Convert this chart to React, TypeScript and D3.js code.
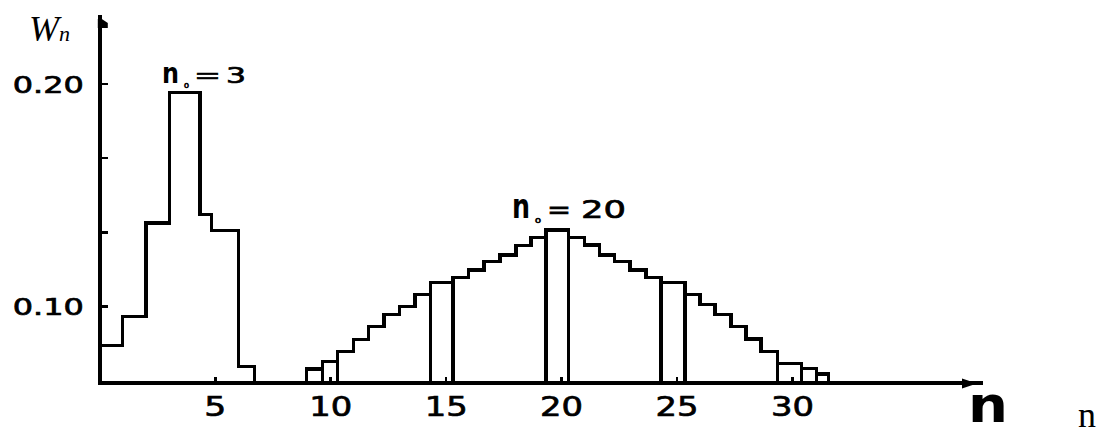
import React from "react";
import * as d3 from "d3";

const WIDTH = 1099;
const HEIGHT = 434;

// Distribution with n0 = 3: bin edges along n and bin heights W_n
const lowEdges = [0, 0.98, 2.0, 3.02, 4.34, 4.85, 6.0, 6.69];
const lowHeights = [0.0825, 0.0955, 0.1376, 0.1963, 0.1413, 0.1343, 0.0732];

// Distribution with n0 = 20
const highEdges = [
  8.94, 9.65, 10.3, 11.0, 11.65, 12.3, 12.99, 13.65, 14.33, 15.3, 15.96, 16.64,
  17.33, 18.02, 18.67, 19.32, 20.31, 20.98, 21.64, 22.29, 22.97, 23.65, 24.31,
  25.35, 25.99, 26.65, 27.33, 27.98, 28.64, 29.34, 30.38, 31.03, 31.56,
];
const highHeights = [
  0.072, 0.0753, 0.0798, 0.0854, 0.091, 0.0966, 0.1, 0.1056, 0.111, 0.1132,
  0.1165, 0.1202, 0.1232, 0.1274, 0.131, 0.1344, 0.131, 0.1277, 0.1232, 0.1202,
  0.1165, 0.1132, 0.111, 0.1056, 0.1011, 0.0966, 0.091, 0.0855, 0.0798, 0.0746,
  0.0723, 0.0698,
];
// bins of the n0 = 20 distribution drawn as closed boxes
const highBoxed = [0, 1, 8, 15, 22, 29, 30, 31];

// axes
const baseValue = 0.0657;
const xTicks = [5, 10, 15, 20, 25, 30];
const yTicks = [0.1, 0.1333, 0.1667, 0.2];
const yLabelTicks = [0.1, 0.2];

const x = d3.scaleLinear().domain([0, 30]).range([99.8, 792.5]);
const y = d3.scaleLinear().domain([0.1, 0.2]).range([306.7, 84]);

const line = d3.line<[number, number]>();

function stepOutline(edges: number[], heights: number[]): string {
  const pts: [number, number][] = [[x(edges[0]), y(baseValue)]];
  heights.forEach((h, i) => {
    pts.push([x(edges[i]), y(h)]);
    pts.push([x(edges[i + 1]), y(h)]);
  });
  pts.push([x(edges[edges.length - 1]), y(baseValue)]);
  return line(pts) as string;
}

const digitFont = "'DejaVu Sans', sans-serif";

function Piece(props: {
  x: number;
  y: number;
  w: number;
  size: number;
  children: React.ReactNode;
  weight?: string | number;
  outline?: number;
}) {
  return (
    <text
      x={props.x}
      y={props.y}
      fontSize={props.size}
      fontFamily={digitFont}
      fontWeight={props.weight ?? "normal"}
      textLength={props.w}
      lengthAdjust="spacingAndGlyphs"
      fill="#000"
      stroke="#000"
      strokeWidth={props.outline ?? 0.7}
    >
      {props.children}
    </text>
  );
}

function PeakLabel(props: { x: number; y: number; cap: number; value: string; gaps: number[]; widths: number[] }) {
  const { x: x0, y: b, cap, value, gaps, widths } = props;
  const fs = cap / 0.729;
  return (
    <g>
      <Piece x={x0} y={b} w={widths[0]} size={cap / 0.547} weight="bold" outline={0}>n</Piece>
      <Piece x={x0 + gaps[0]} y={b + 5} w={widths[1]} size={9}>o</Piece>
      <Piece x={x0 + gaps[1]} y={b} w={widths[2]} size={fs}>=</Piece>
      <Piece x={x0 + gaps[2]} y={b} w={widths[3]} size={fs}>{value}</Piece>
    </g>
  );
}

export default function App() {
  const x0 = x(0);
  const yBase = y(baseValue);
  const yTop = 15;
  const xEnd = 983;
  const sw = 3.4;

  return (
    <div style={{ position: "absolute", left: 0, top: 0 }}>
      <svg width={WIDTH} height={HEIGHT} style={{ display: "block", background: "#fff" }}>
        {/* histograms */}
        <g fill="none" stroke="#000" strokeWidth={sw} shapeRendering="crispEdges">
          <path d={stepOutline(lowEdges, lowHeights)} />
          <path d={stepOutline(highEdges, highHeights)} />
          {highBoxed.map((i) => (
            <rect
              key={i}
              x={x(highEdges[i])}
              y={y(highHeights[i])}
              width={x(highEdges[i + 1]) - x(highEdges[i])}
              height={yBase - y(highHeights[i])}
            />
          ))}
        </g>

        {/* axes */}
        <g stroke="#000" shapeRendering="crispEdges">
          <line x1={x0} y1={yTop} x2={x0} y2={yBase + 1.7} strokeWidth={sw} />
          <line x1={x0 - 1.7} y1={yBase} x2={xEnd} y2={yBase} strokeWidth={sw} />
          {yTicks.map((t) => (
            <line key={t} x1={x0} x2={x0 + 8} y1={y(t)} y2={y(t)} strokeWidth={2.6} />
          ))}
          {xTicks.map((t) => (
            <line key={t} x1={x(t)} x2={x(t)} y1={yBase} y2={yBase - 6} strokeWidth={2.6} />
          ))}
        </g>
        <polygon
          points={`${x0 - 2},19 ${x0 + 2},19 ${x0 + 8},23 ${x0 + 8},28 ${x0 - 2},28`}
          fill="#000"
        />
        <polygon points={`962,378.5 962,388.5 977,383.5`} fill="#000" />

        {/* tick labels */}
        {yLabelTicks.map((t) => (
          <Piece key={t} x={x0 - 87} y={y(t) + 8.5} w={71} size={17 / 0.729}>
            {d3.format(".2f")(t)}
          </Piece>
        ))}
        {xTicks.map((t) => {
          const s = String(t);
          const w = s.length === 1 ? 22 : 43;
          return (
            <Piece key={t} x={x(t) - w / 2} y={416} w={w} size={20 / 0.729}>
              {s}
            </Piece>
          );
        })}

        {/* axis titles */}
        <text x={29} y={41} fontFamily="'Liberation Serif', serif" fontStyle="italic" fontSize={36}>
          W
          <tspan fontSize={22}>n</tspan>
        </text>
        <Piece x={968} y={422} w={40} size={50} weight="bold" outline={0}>
          n
        </Piece>
        <text x={1078} y={427} fontFamily="'Liberation Serif', serif" fontSize={36}>
          n
        </text>

        {/* peak annotations */}
        <PeakLabel x={162} y={83} cap={15.5} value="3" gaps={[22, 32, 64]} widths={[17, 5, 27, 20]} />
        <PeakLabel x={512} y={218} cap={18.5} value="20" gaps={[23, 35, 69]} widths={[18, 6, 24, 45]} />
      </svg>
    </div>
  );
}
